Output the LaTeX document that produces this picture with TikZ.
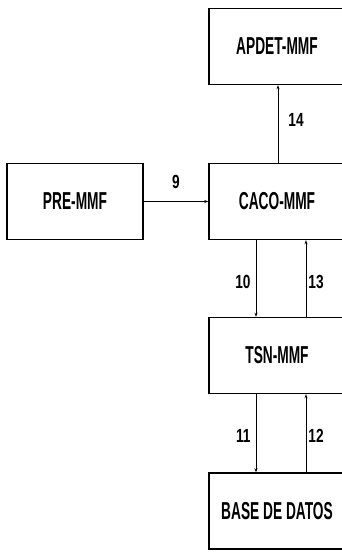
\documentclass[tikz,border=0pt]{standalone}
\usepackage{fontspec}
\usepackage{tikz}
\usetikzlibrary{arrows.meta, positioning}
\newfontfamily\boxfont{Liberation Sans}[FakeStretch=0.56]
\newfontfamily\numfont{Liberation Sans}[FakeStretch=0.72]

\tikzset{
  modbox/.style={draw, line width=1.4pt, minimum width=136pt, minimum height=76pt,
                 inner sep=0pt, font=\boxfont\bfseries\fontsize{24.5}{27}\selectfont},
  flow/.style={line width=0.9pt, -{Stealth[length=4pt, width=3pt]}},
  flownum/.style={font=\numfont\bfseries\fontsize{19}{21}\selectfont, inner sep=1pt}
}

\begin{document}
\begin{tikzpicture}[x=1pt, y=-1pt]
  \useasboundingbox (0,0) rectangle (342,552);
  \clip (0,0) rectangle (342,552);

  % modules
  \node[modbox] (apdet) at (277,46.5) {APDET-MMF};
  \node[modbox] (pre)   at (75,201.5) {PRE-MMF};
  \node[modbox] (caco)  at (277,201.5) {CACO-MMF};
  \node[modbox] (tsn)   at (277,355.5) {TSN-MMF};
  \node[modbox] (bd)    at (277,511) {BASE DE DATOS};

  % flows
  \draw[flow] (pre.east) -- node[flownum, above=11pt] {9} (caco.west);
  \draw[flow] ([xshift=1pt]caco.north) -- node[flownum, right=9pt, pos=0.55] {14} ([xshift=1pt]apdet.south);
  \draw[flow] ([xshift=-21pt]caco.south) -- node[flownum, left=4pt, pos=0.55] {10} ([xshift=-21pt]tsn.north);
  \draw[flow] ([xshift=29pt]tsn.north) -- node[flownum, right=1pt, pos=0.45] {13} ([xshift=29pt]caco.south);
  \draw[flow] ([xshift=-21pt]tsn.south) -- node[flownum, left=4pt, pos=0.53] {11} ([xshift=-21pt]bd.north);
  \draw[flow] ([xshift=29pt]bd.north) -- node[flownum, right=1pt, pos=0.47] {12} ([xshift=29pt]tsn.south);
\end{tikzpicture}
\end{document}
